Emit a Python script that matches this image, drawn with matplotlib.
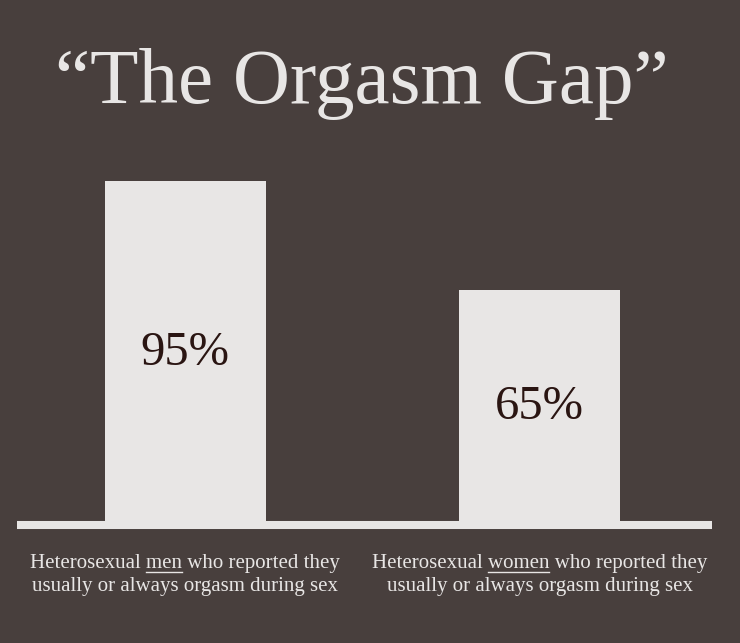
import matplotlib
matplotlib.use("Agg")
import matplotlib.pyplot as plt
from matplotlib.lines import Line2D

# data
categories = ["men", "women"]
values = [95, 65]
value_labels = ["95%", "65%"]
label_lines = [
    ["Heterosexual men who reported they", "usually or always orgasm during sex"],
    ["Heterosexual women who reported they", "usually or always orgasm during sex"],
]
underlined = ["men", "women"]
title = "\u201cThe Orgasm Gap\u201d"

BG = "#483f3d"
LIGHT = "#e8e6e5"
DARK = "#2a1512"
SERIF = ["Liberation Serif", "DejaVu Serif"]

W, H = 740, 643
fig = plt.figure(figsize=(W / 100, H / 100), dpi=100, facecolor=BG)

# axes spanning the baseline, bottom at the baseline centre
ax = fig.add_axes([17 / W, (H - 525) / H, 695 / W, (525 - 181) / H])
ax.set_facecolor(BG)
x = list(range(len(values)))
ax.bar(x, values, width=0.454, color=LIGHT, zorder=2)
ax.set_xlim(-0.474, 1.486)
ax.set_ylim(0, 95)
ax.axhline(0, color=LIGHT, lw=5.8, solid_capstyle="butt", clip_on=False, zorder=3)
for s in ax.spines.values():
    s.set_visible(False)
ax.set_xticks([])
ax.set_yticks([])

for xi, v, lab in zip(x, values, value_labels):
    ax.text(xi, v / 2, lab, ha="center", va="center", fontsize=35,
            family=SERIF, color=DARK, zorder=4)

fig.text(362 / W, (H - 103) / H, title, ha="center", va="baseline",
         fontsize=57, family=SERIF, color=LIGHT)

# category labels under the baseline, one word underlined
fig.canvas.draw()
renderer = fig.canvas.get_renderer()
baselines = [568, 591]
fsize = 15
for xi, lines, word in zip(x, label_lines, underlined):
    cx_px = ax.transData.transform((xi, 0))[0]
    for j, line in enumerate(lines):
        t = fig.text(cx_px / W, (H - baselines[j]) / H, line, ha="center",
                     va="baseline", fontsize=fsize, family=SERIF, color=LIGHT)
        if j == 0:
            prop = t.get_fontproperties()
            full_w = renderer.get_text_width_height_descent(line, prop, ismath=False)[0]
            i = line.index(word)
            upto = renderer.get_text_width_height_descent(line[:i + len(word)], prop, ismath=False)[0]
            word_w = renderer.get_text_width_height_descent(word, prop, ismath=False)[0]
            x1 = cx_px - full_w / 2 + upto
            x0 = x1 - word_w
            yy = (H - (baselines[0] + 3.5)) / H
            fig.add_artist(Line2D([x0 / W, x1 / W], [yy, yy], color=LIGHT, lw=1,
                                  transform=fig.transFigure))

fig.savefig("out.png", dpi=100, facecolor=BG)
